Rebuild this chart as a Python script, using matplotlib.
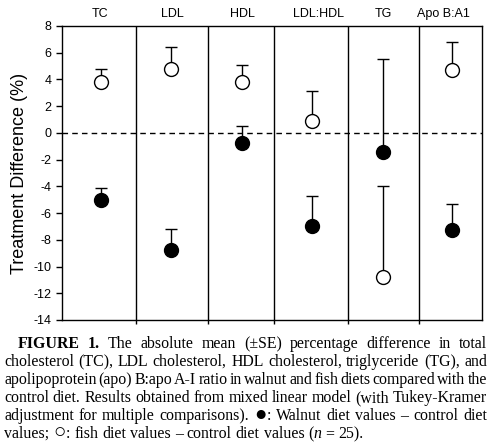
import numpy as np
import matplotlib.pyplot as plt

plt.rcParams['font.family'] = ['Liberation Sans', 'DejaVu Sans']
plt.rcParams['axes.unicode_minus'] = False

categories = ['TC', 'LDL', 'HDL', 'LDL:HDL', 'TG', 'Apo B:A1']
walnut_mean = [-5.0, -8.75, -0.75, -6.95, -1.45, -7.3]
walnut_se = [0.9, 1.55, 1.25, 2.2, 6.95, 1.95]
fish_mean = [3.8, 4.75, 3.8, 0.9, -10.8, 4.7]
fish_se = [0.95, 1.65, 1.25, 2.25, 6.85, 2.1]
yticks = np.arange(-14, 9, 2)

caption_lines = [
    "*FIGURE *1. The absolute mean (±SE) percentage difference in total",
    "cholesterol (TC), LDL cholesterol, HDL cholesterol, triglyceride (TG), and",
    "apolipoprotein (apo) B:apo A-I ratio in walnut and fish diets compared with the",
    "control diet. Results obtained from mixed linear model (with Tukey-Kramer",
    "adjustment for multiple comparisons). ^●|: Walnut diet values – control diet",
    "values; ^○|: fish diet values – control diet values (|~n = 25).",
]

# layout: point positions and panel dividers (data x units)
xpos = np.array([0.55, 1.55, 2.57, 3.57, 4.59, 5.57])
label_x = [0.54, 1.57, 2.58, 3.67, 4.59, 5.45]
dividers = [1.05, 2.08, 3.03, 4.08, 5.1]

W, H = 490, 442
fig = plt.figure(figsize=(W / 100, H / 100), dpi=100)
ax = fig.add_axes([62 / W, 1 - 320 / H, 420 / W, 294 / H])

zeros = np.zeros(len(categories))
ax.errorbar(xpos, walnut_mean, yerr=[zeros, walnut_se], fmt='none', ecolor='k',
            elinewidth=1, capsize=4, capthick=1, zorder=2)
ax.errorbar(xpos, fish_mean, yerr=[zeros, fish_se], fmt='none', ecolor='k',
            elinewidth=1, capsize=4, capthick=1, zorder=2)
ax.plot(xpos, walnut_mean, 'o', ms=10, mfc='k', mec='k', ls='none', zorder=3)
ax.plot(xpos, fish_mean, 'o', ms=10, mfc='white', mec='k', mew=1, ls='none', zorder=3)

ax.axhline(0, color='k', lw=1, ls=(0, (4, 3)), zorder=1)
for d in dividers:
    ax.axvline(d, color='k', lw=1, zorder=1)

ax.set_xlim(0, 6)
ax.set_ylim(-14, 8)
ax.set_yticks(yticks)
ax.set_yticklabels([str(v) for v in yticks], fontsize=9)
ax.set_xticks(dividers)
ax.set_xticklabels([])
ax.tick_params(axis='both', direction='out', length=4, width=1)
ax.tick_params(axis='x', length=3)
for s in ax.spines.values():
    s.set_linewidth(1)
ax.set_ylabel('Treatment Difference (%)', fontsize=13, labelpad=4)

for x, c in zip(label_x, categories):
    ax.text(x, 8.9, c, ha='center', va='center', fontsize=9, clip_on=False)

# justified caption
fig.canvas.draw()
r = fig.canvas.get_renderer()
serif = ['Liberation Serif', 'DejaVu Sans']
fs = 11.4


def make_word(word):
    runs = []
    for seg in word.split('|'):
        if not seg:
            continue
        weight, style, size = 'normal', 'normal', fs
        if seg.startswith('*'):
            weight, seg = 'bold', seg[1:]
        elif seg.startswith('~'):
            style, seg = 'italic', seg[1:]
        elif seg.startswith('^'):
            size, seg = fs * 1.3, seg[1:]
        t = fig.text(0, 0, seg, family=serif, fontsize=size, weight=weight,
                     style=style, va='baseline', ha='left')
        runs.append(t)
    return runs


tmp2 = fig.text(0, 0, 'a a', family=serif, fontsize=fs)
tmp1 = fig.text(0, 0, 'aa', family=serif, fontsize=fs)
space_w = tmp2.get_window_extent(r).width - tmp1.get_window_extent(r).width
tmp1.remove()
tmp2.remove()

for i, line in enumerate(caption_lines):
    words = [make_word(w) for w in line.split(' ')]
    widths = [[t.get_window_extent(r).width for t in w] for w in words]
    total = sum(sum(w) for w in widths)
    left = 18 if i == 0 else 4
    right = 487
    if i < len(caption_lines) - 1:
        gap = (right - left - total) / (len(words) - 1)
    else:
        gap = space_w
    y = 1 - (348 + 18 * i) / H
    x = left
    for w, ws in zip(words, widths):
        for t, tw in zip(w, ws):
            t.set_position((x / W, y))
            x += tw
        x += gap

fig.savefig('out.png', dpi=100)
